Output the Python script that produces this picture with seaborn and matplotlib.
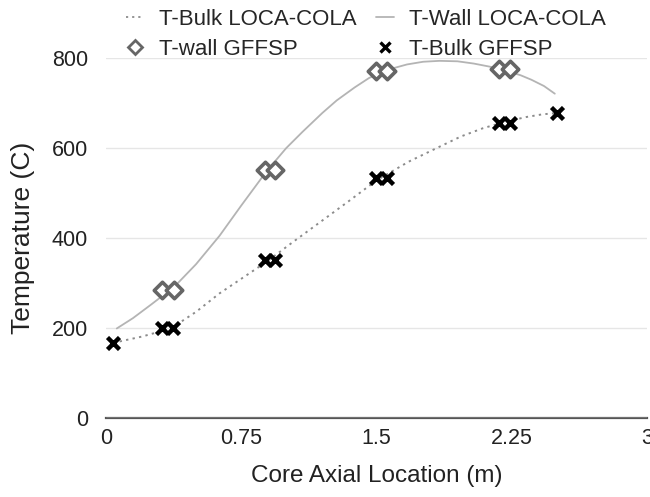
import numpy as np
import pandas as pd
import seaborn as sns
import matplotlib.pyplot as plt
from matplotlib.lines import Line2D

# LOCA-COLA curves
wall_x = [0.06, 0.15, 0.25, 0.38, 0.50, 0.63, 0.75, 0.89, 1.00, 1.09, 1.20, 1.28,
          1.38, 1.46, 1.57, 1.67, 1.76, 1.85, 1.95, 2.04, 2.13, 2.22, 2.30, 2.36,
          2.43, 2.49]
wall_y = [199, 222, 252, 292, 342, 405, 472, 548, 600, 636, 678, 706,
          735, 756, 775, 786, 792, 794, 793, 788, 781, 772, 762, 752,
          738, 721]
bulk_x = [0.04, 0.20, 0.36, 0.50, 0.63, 0.76, 0.89, 1.04, 1.19, 1.35, 1.50, 1.68,
          1.85, 1.97, 2.09, 2.21, 2.33, 2.42, 2.50]
bulk_y = [167, 181, 199, 236, 277, 312, 347, 392, 436, 483, 528, 570,
          603, 626, 644, 658, 669, 675, 678]

# GFFSP points
gw_x = [0.31, 0.38, 0.88, 0.94, 1.50, 1.56, 2.18, 2.24]
gw_y = [284, 284, 551, 551, 772, 772, 776, 776]
gb_x = [0.04, 0.31, 0.37, 0.88, 0.94, 1.50, 1.56, 2.18, 2.24, 2.50]
gb_y = [167, 199, 199, 351, 351, 534, 534, 655, 655, 678]

x_ticks = [0, 0.75, 1.5, 2.25, 3]
x_labels = ["0", "0.75", "1.5", "2.25", "3"]
y_ticks = [0, 200, 400, 600, 800]

sns.set_style("white")
plt.rcParams['font.family'] = ['Liberation Sans', 'DejaVu Sans']

fig = plt.figure(figsize=(6.5, 4.97), dpi=100)
ax = fig.add_axes([0.163, 0.159, 0.832, 0.724])

wall = pd.DataFrame({"x": wall_x, "y": wall_y})
bulk = pd.DataFrame({"x": bulk_x, "y": bulk_y})
sns.lineplot(data=wall, x="x", y="y", ax=ax, color="#b4b4b4", lw=1.3,
             estimator=None, sort=False)
sns.lineplot(data=bulk, x="x", y="y", ax=ax, color="#8c8c8c", lw=1.4,
             linestyle=(0, (1.2, 2.2)), estimator=None, sort=False)

ax.scatter(gw_x, gw_y, marker="D", s=70, facecolors="white",
           edgecolors="#666666", linewidths=2.6, zorder=3)
ax.scatter(gb_x, gb_y, marker="x", s=75, color="black", linewidths=3.2, zorder=4)

ax.set_xlim(0, 3)
ax.set_ylim(0, 800)
ax.set_xticks(x_ticks)
ax.set_xticklabels(x_labels)
ax.set_yticks(y_ticks)
ax.yaxis.grid(True, color="#e6e6e6", lw=1)
ax.set_axisbelow(True)
for s in ["left", "right", "top"]:
    ax.spines[s].set_visible(False)
ax.spines["bottom"].set_color("#555555")
ax.spines["bottom"].set_linewidth(1.6)
ax.spines["bottom"].set_zorder(0.5)
ax.tick_params(axis="both", length=0, labelsize=15.5, colors="#222222", pad=7)
ax.tick_params(axis="y", pad=13)
ax.set_xlabel("Core Axial Location (m)", fontsize=17.5, color="#222222", labelpad=12)
ax.set_ylabel("Temperature (C)", fontsize=19, color="#222222", labelpad=12)

handles = [
    Line2D([], [], color="#8c8c8c", lw=1.3, linestyle=(0, (1.2, 2.2))),
    Line2D([], [], marker="D", ls="none", markersize=7, markerfacecolor="white",
           markeredgecolor="#666666", markeredgewidth=2),
    Line2D([], [], color="#b4b4b4", lw=1.3),
    Line2D([], [], marker="x", ls="none", markersize=7, color="black",
           markeredgewidth=2.4),
]
labels = ["T-Bulk LOCA-COLA", "T-wall GFFSP", "T-Wall LOCA-COLA", "T-Bulk GFFSP"]
fig.legend(handles, labels, loc="upper left", bbox_to_anchor=(0.163, 1.022),
           ncol=2, frameon=False, fontsize=16, handlelength=0.8,
           handletextpad=0.7, columnspacing=0.85, labelspacing=0.38)

plt.savefig("out.png", dpi=100)
